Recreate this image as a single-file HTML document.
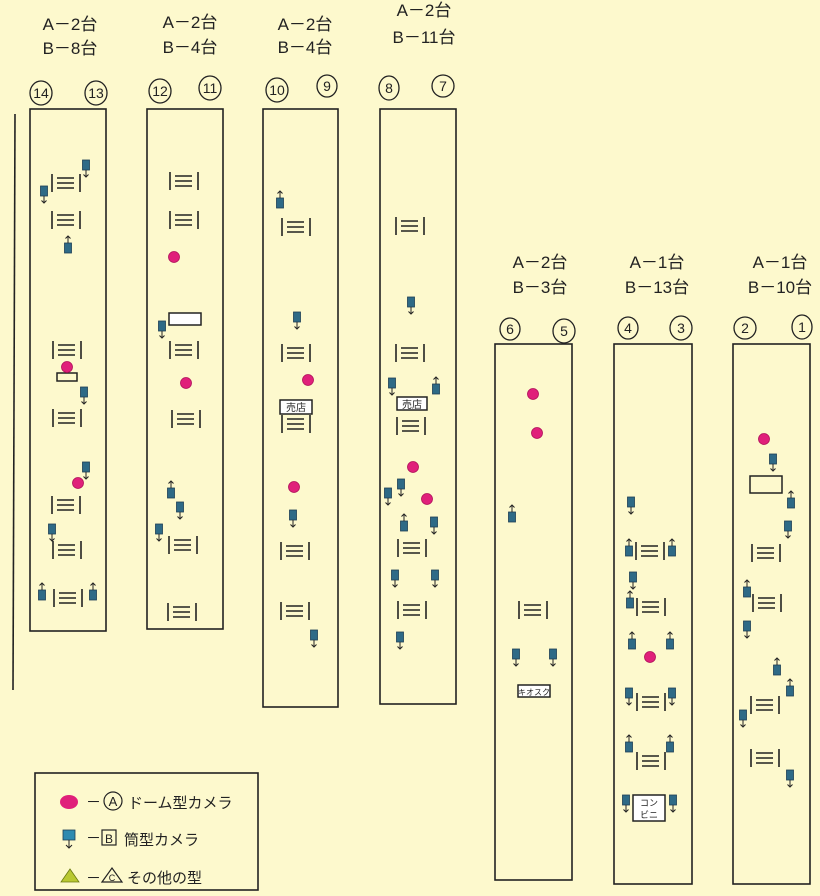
<!DOCTYPE html>
<html><head><meta charset="utf-8"><style>
html,body{margin:0;padding:0;background:#fdf9cd;}
svg{display:block;}
text{font-family:"Liberation Sans","Noto Sans CJK JP",sans-serif;fill:#222;}
</style></head><body>
<svg width="820" height="896" viewBox="0 0 820 896" xmlns="http://www.w3.org/2000/svg">
<defs>
<g id="sh" stroke="#222" stroke-width="1.6" fill="none">
<line x1="-14" y1="-9" x2="-14" y2="9"/><line x1="14" y1="-9" x2="14" y2="9"/>
<line x1="-9" y1="-5" x2="8" y2="-5"/><line x1="-9" y1="0" x2="8" y2="0"/><line x1="-9" y1="5" x2="8" y2="5"/>
</g>
<g id="cd"><rect x="-3.5" y="-6" width="7" height="10" fill="#2e6a86" stroke="#1d3f55" stroke-width="0.8"/><path d="M0 4 V11 M-2.5 8.5 L0 11 L2.5 8.5" stroke="#222" stroke-width="1" fill="none"/></g>
<g id="cu"><rect x="-3.5" y="-2" width="7" height="10" fill="#2e6a86" stroke="#1d3f55" stroke-width="0.8"/><path d="M0 -2 V-9 M-2.5 -6.5 L0 -9 L2.5 -6.5" stroke="#222" stroke-width="1" fill="none"/></g>
<circle id="dm" r="5.5" fill="#e0207a" stroke="#b0105a" stroke-width="0.8"/>
</defs>
<g stroke="#222" stroke-width="1.6" fill="none">
<line x1="15" y1="114" x2="13" y2="690"/>
<rect x="30" y="109" width="76" height="522"/>
<rect x="147" y="109" width="76" height="520"/>
<rect x="263" y="109" width="75" height="598"/>
<rect x="380" y="109" width="76" height="595"/>
<rect x="495" y="344" width="77" height="536"/>
<rect x="614" y="344" width="78" height="540"/>
<rect x="733" y="344" width="77" height="540"/>
<rect x="35" y="773" width="223" height="117"/>
</g>
<g font-size="17" text-anchor="middle">
<text x="70" y="30">A－2台</text><text x="70" y="54">B－8台</text>
<text x="190" y="28">A－2台</text><text x="190" y="53">B－4台</text>
<text x="305" y="30">A－2台</text><text x="305" y="53">B－4台</text>
<text x="424" y="16">A－2台</text><text x="424" y="43">B－11台</text>
<text x="540" y="268">A－2台</text><text x="540" y="293">B－3台</text>
<text x="657" y="268">A－1台</text><text x="657" y="293">B－13台</text>
<text x="780" y="268">A－1台</text><text x="780" y="293">B－10台</text>
</g>
<g stroke="#222" stroke-width="1.3" fill="none">
<ellipse cx="41" cy="93" rx="11" ry="12"/><ellipse cx="96" cy="93" rx="11" ry="12"/>
<ellipse cx="160" cy="91" rx="11" ry="12"/><ellipse cx="210" cy="88" rx="11" ry="12"/>
<ellipse cx="277" cy="90" rx="11" ry="12"/><ellipse cx="327" cy="86" rx="10" ry="11"/>
<ellipse cx="389" cy="88" rx="10" ry="12"/><ellipse cx="443" cy="86" rx="11" ry="11"/>
<ellipse cx="510" cy="329" rx="10" ry="11"/><ellipse cx="564" cy="331" rx="11" ry="12"/>
<ellipse cx="628" cy="328" rx="10" ry="11"/><ellipse cx="681" cy="328" rx="11" ry="12"/>
<ellipse cx="745" cy="328" rx="11" ry="11"/><ellipse cx="802" cy="327" rx="10" ry="12"/>
</g>
<g font-size="14" text-anchor="middle">
<text x="41" y="98">14</text><text x="96" y="98">13</text><text x="160" y="96">12</text><text x="210" y="93">11</text>
<text x="277" y="95">10</text><text x="327" y="91">9</text><text x="389" y="93">8</text><text x="443" y="91">7</text>
<text x="510" y="334">6</text><text x="564" y="336">5</text><text x="628" y="333">4</text><text x="681" y="333">3</text>
<text x="745" y="333">2</text><text x="802" y="332">1</text>
</g>
<g>
<use href="#sh" x="66" y="183"/><use href="#sh" x="66" y="220"/><use href="#sh" x="67" y="350"/><use href="#sh" x="67" y="418"/><use href="#sh" x="66" y="505"/><use href="#sh" x="67" y="550"/><use href="#sh" x="68" y="598"/>
<use href="#sh" x="184" y="181"/><use href="#sh" x="184" y="220"/><use href="#sh" x="184" y="350"/><use href="#sh" x="186" y="419"/><use href="#sh" x="183" y="545"/><use href="#sh" x="182" y="612"/>
<use href="#sh" x="296" y="227"/><use href="#sh" x="296" y="353"/><use href="#sh" x="296" y="424"/><use href="#sh" x="295" y="551"/><use href="#sh" x="295" y="611"/>
<use href="#sh" x="410" y="226"/><use href="#sh" x="410" y="353"/><use href="#sh" x="411" y="426"/><use href="#sh" x="412" y="548"/><use href="#sh" x="412" y="610"/>
<use href="#sh" x="533" y="610"/>
<use href="#sh" x="650" y="551"/><use href="#sh" x="651" y="607"/><use href="#sh" x="651" y="702"/><use href="#sh" x="651" y="761"/>
<use href="#sh" x="766" y="553"/><use href="#sh" x="767" y="603"/><use href="#sh" x="765" y="705"/><use href="#sh" x="765" y="758"/>
</g>
<g stroke="#222" stroke-width="1.5" fill="#fff">
<rect x="169" y="313" width="32" height="12"/>
<rect x="57" y="373" width="20" height="8" fill="none"/>
<rect x="750" y="476" width="32" height="17" fill="none"/>
<rect x="280" y="400" width="32" height="14"/>
<rect x="397" y="397" width="30" height="13"/>
<rect x="518" y="685" width="32" height="12"/>
<rect x="633" y="795" width="32" height="26"/>
</g>
<g font-size="10" text-anchor="middle">
<text x="296" y="411">売店</text><text x="412" y="408">売店</text>
<text x="534" y="695" font-size="8">キオスク</text>
<text x="649" y="806" font-size="9">コン</text><text x="649" y="818" font-size="9">ビニ</text>
</g>
<g>
<use href="#dm" x="67" y="367"/><use href="#dm" x="78" y="483"/>
<use href="#dm" x="174" y="257"/><use href="#dm" x="186" y="383"/>
<use href="#dm" x="308" y="380"/><use href="#dm" x="294" y="487"/>
<use href="#dm" x="413" y="467"/><use href="#dm" x="427" y="499"/>
<use href="#dm" x="533" y="394"/><use href="#dm" x="537" y="433"/>
<use href="#dm" x="650" y="657"/><use href="#dm" x="764" y="439"/>
</g>
<g>
<use href="#cd" x="86" y="166"/><use href="#cd" x="44" y="192"/><use href="#cu" x="68" y="245"/><use href="#cd" x="84" y="393"/><use href="#cd" x="86" y="468"/><use href="#cd" x="52" y="530"/><use href="#cu" x="42" y="592"/><use href="#cu" x="93" y="592"/>
<use href="#cd" x="162" y="327"/><use href="#cu" x="171" y="490"/><use href="#cd" x="180" y="508"/><use href="#cd" x="159" y="530"/>
<use href="#cu" x="280" y="200"/><use href="#cd" x="297" y="318"/><use href="#cd" x="293" y="516"/><use href="#cd" x="314" y="636"/>
<use href="#cd" x="411" y="303"/><use href="#cd" x="392" y="384"/><use href="#cu" x="436" y="386"/><use href="#cd" x="388" y="494"/><use href="#cd" x="401" y="485"/><use href="#cu" x="404" y="523"/><use href="#cd" x="434" y="523"/><use href="#cd" x="395" y="576"/><use href="#cd" x="435" y="576"/><use href="#cd" x="400" y="638"/>
<use href="#cu" x="512" y="514"/><use href="#cd" x="516" y="655"/><use href="#cd" x="553" y="655"/>
<use href="#cd" x="631" y="503"/><use href="#cu" x="629" y="548"/><use href="#cu" x="672" y="548"/><use href="#cd" x="633" y="578"/><use href="#cu" x="630" y="600"/><use href="#cu" x="632" y="641"/><use href="#cu" x="670" y="641"/><use href="#cd" x="629" y="694"/><use href="#cd" x="672" y="694"/><use href="#cu" x="629" y="744"/><use href="#cu" x="670" y="744"/><use href="#cd" x="626" y="801"/><use href="#cd" x="673" y="801"/>
<use href="#cd" x="773" y="460"/><use href="#cu" x="791" y="500"/><use href="#cd" x="788" y="527"/><use href="#cu" x="747" y="589"/><use href="#cd" x="747" y="627"/><use href="#cu" x="777" y="667"/><use href="#cu" x="790" y="688"/><use href="#cd" x="743" y="716"/><use href="#cd" x="790" y="776"/>
</g>
<g>
<ellipse cx="69" cy="802" rx="9" ry="7" fill="#e0207a"/>
<rect x="63" y="830" width="12" height="10" fill="#2e8ab0" stroke="#1d3f55" stroke-width="0.8"/>
<path d="M69 840 V848 M66 845 L69 848 L72 845" stroke="#222" fill="none"/>
<polygon points="61,882 70,869 79,882" fill="#b9c832" stroke="#6a7a10" stroke-width="0.8"/>
</g>
<g font-size="15">
<text x="86" y="807">－</text><circle cx="113" cy="801" r="9" fill="none" stroke="#222" stroke-width="1.2"/><text x="113" y="806" text-anchor="middle" font-size="13">A</text><text x="128" y="808">ドーム型カメラ</text>
<text x="86" y="843">－</text><rect x="102" y="830" width="14" height="15" fill="none" stroke="#222" stroke-width="1.2"/><text x="109" y="843" text-anchor="middle" font-size="12">B</text><text x="124" y="845">筒型カメラ</text>
<text x="86" y="883">－</text><polygon points="102,882 112,868 122,882" fill="none" stroke="#222" stroke-width="1.2"/><text x="112" y="881" text-anchor="middle" font-size="9">C</text><text x="127" y="883">その他の型</text>
</g>
</svg>
</body></html>
